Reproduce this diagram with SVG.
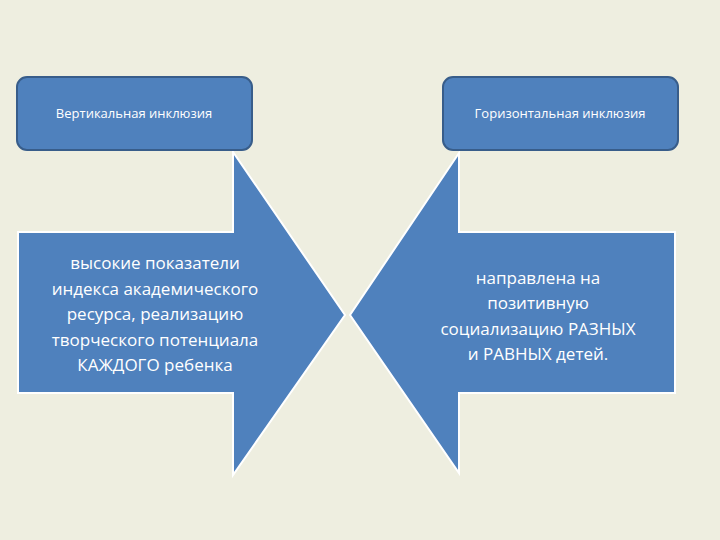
<svg xmlns="http://www.w3.org/2000/svg" width="720" height="540" viewBox="0 0 720 540">
<style>
.box{fill:#4f81bd;stroke:#385d8a;stroke-width:2}
.arr{fill:#4f81bd;stroke:#ffffff;stroke-width:2}
.t1{font-family:"Open Sans","DejaVu Sans",sans-serif;font-size:13px;fill:#fff;text-anchor:middle}
.t2{font-family:"Open Sans","DejaVu Sans",sans-serif;font-size:17px;fill:#fff;text-anchor:middle}
</style>
<rect width="720" height="540" fill="#eeeee0"/>
<g id="connectors">
<polygon id="arrowL" class="arr" points="18,232 233,232 233,152 345,315 233,475 233,393 18,393"/>
<polygon id="arrowR" class="arr" points="675,232 459,232 459,153 350,315 459,473 459,393 675,393"/>
</g>
<g id="vert">
<rect class="box" x="17" y="77" width="235" height="73" rx="10"/>
<text class="t1" x="134" y="118">Вертикальная инклюзия</text>
</g>
<g id="horiz">
<rect class="box" x="443" y="77" width="235" height="73" rx="10"/>
<text class="t1" x="560" y="118">Горизонтальная инклюзия</text>
</g>
<g id="leftText">
<text class="t2" x="155" y="269">высокие показатели</text>
<text class="t2" x="155" y="295">индекса академического</text>
<text class="t2" x="155" y="320">ресурса, реализацию</text>
<text class="t2" x="155" y="346">творческого потенциала</text>
<text class="t2" x="155" y="371">КАЖДОГО ребенка</text>
</g>
<g id="rightText">
<text class="t2" x="538" y="284">направлена на</text>
<text class="t2" x="538" y="309">позитивную</text>
<text class="t2" x="538" y="335">социализацию РАЗНЫХ</text>
<text class="t2" x="538" y="360">и РАВНЫХ детей.</text>
</g>
</svg>
